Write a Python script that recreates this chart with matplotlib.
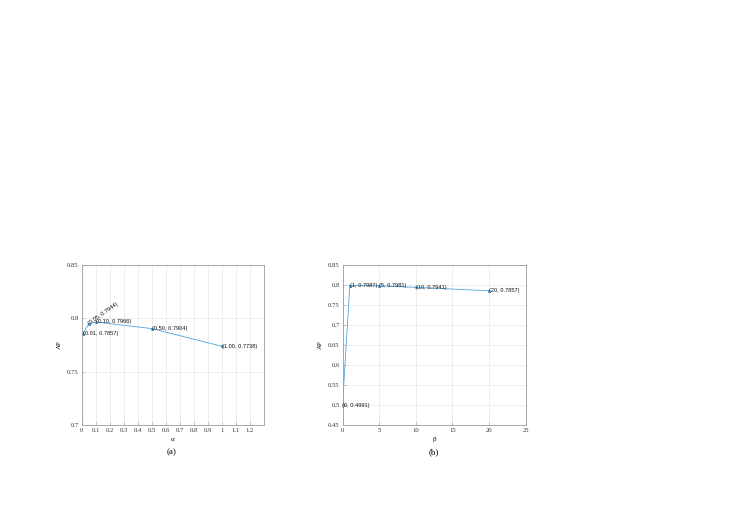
import matplotlib
matplotlib.use("Agg")
import matplotlib.pyplot as plt
import numpy as np

# Data (a)
alpha = [0.01, 0.05, 0.10, 0.50, 1.00]
ap_alpha = [0.7857, 0.7944, 0.7966, 0.7904, 0.7738]
alpha_labels = ["(0.01, 0.7857)", "(0.05, 0.7944)", "(0.10, 0.7966)", "(0.50, 0.7904)", "(1.00, 0.7738)"]
alpha_xticks = [0, 0.1, 0.2, 0.3, 0.4, 0.5, 0.6, 0.7, 0.8, 0.9, 1, 1.1, 1.2]
alpha_xticklabels = ["0", "0.1", "0.2", "0.3", "0.4", "0.5", "0.6", "0.7", "0.8", "0.9", "1", "1.1", "1.2"]
alpha_yticks = [0.7, 0.75, 0.8, 0.85]
alpha_yticklabels = ["0.7", "0.75", "0.8", "0.85"]

# Data (b)
beta = [0, 1, 5, 10, 20]
ap_beta = [0.4991, 0.7987, 0.7981, 0.7941, 0.7857]
beta_labels = ["(0, 0.4991)", "(1, 0.7987)", "(5, 0.7981)", "(10, 0.7941)", "(20, 0.7857)"]
beta_xticks = [0, 5, 10, 15, 20, 25]
beta_xticklabels = ["0", "5", "10", "15", "20", "25"]
beta_yticks = [0.45, 0.5, 0.55, 0.6, 0.65, 0.7, 0.75, 0.8, 0.85]
beta_yticklabels = ["0.45", "0.5", "0.55", "0.6", "0.65", "0.7", "0.75", "0.8", "0.85"]

W, H = 730, 532
fig = plt.figure(figsize=(W / 100, H / 100), dpi=100)
fig.patch.set_facecolor("white")

line_color = "#4da3dc"
tick_font = dict(family="Liberation Serif", size=4.8, color="#333333")
label_font = dict(family="Liberation Sans", size=4.1, color="#111111")

def style_axes(ax, xlim, ylim, xticks, xtl, yticks, ytl):
    ax.set_xlim(*xlim)
    ax.set_ylim(*ylim)
    ax.set_xticks(xticks)
    ax.set_xticklabels(xtl, fontdict=tick_font)
    ax.set_yticks(yticks)
    ax.set_yticklabels(ytl, fontdict=tick_font)
    ax.grid(True, color="#e8e8e8", linewidth=0.5)
    ax.set_axisbelow(True)
    for s in ax.spines.values():
        s.set_color("#9a9a9a")
        s.set_linewidth(0.6)
    ax.tick_params(direction="in", length=2, width=0.4, color="#9a9a9a", pad=2)

# (a)
ax1 = fig.add_axes([81.5 / W, 1 - 425 / H, 182.5 / W, 160 / H])
ax1.plot(alpha, ap_alpha, color=line_color, linewidth=0.6, marker=".", markersize=2.5)
style_axes(ax1, (0, 1.3), (0.7, 0.85), alpha_xticks, alpha_xticklabels, alpha_yticks, alpha_yticklabels)
for x, y, t in zip(alpha, ap_alpha, alpha_labels):
    rot = 35 if t == "(0.05, 0.7944)" else 0
    ax1.text(x, y, t, ha="left", va="center", rotation=rot, rotation_mode="anchor", **label_font)
ax1.set_ylabel("AP", family="Liberation Serif", fontsize=5, labelpad=4)
ax1.set_xlabel("α", family="Liberation Serif", fontsize=5, labelpad=3)

# (b)
ax2 = fig.add_axes([342.5 / W, 1 - 425 / H, 183 / W, 160 / H])
ax2.plot(beta, ap_beta, color=line_color, linewidth=0.6, marker=".", markersize=2.5)
style_axes(ax2, (0, 25), (0.45, 0.85), beta_xticks, beta_xticklabels, beta_yticks, beta_yticklabels)
for x, y, t in zip(beta, ap_beta, beta_labels):
    ax2.text(x, y, t, ha="left", va="center", **label_font)
ax2.set_ylabel("AP", family="Liberation Serif", fontsize=5, labelpad=4)
ax2.set_xlabel("β", family="Liberation Serif", fontsize=5, labelpad=3)

fig.text(172 / W, 1 - 452 / H, "(a)", family="Liberation Serif", fontsize=6.5, ha="center", va="center")
fig.text(434 / W, 1 - 452 / H, "(b)", family="Liberation Serif", fontsize=6.5, ha="center", va="center")

fig.savefig("out.png", dpi=100, facecolor="white")
